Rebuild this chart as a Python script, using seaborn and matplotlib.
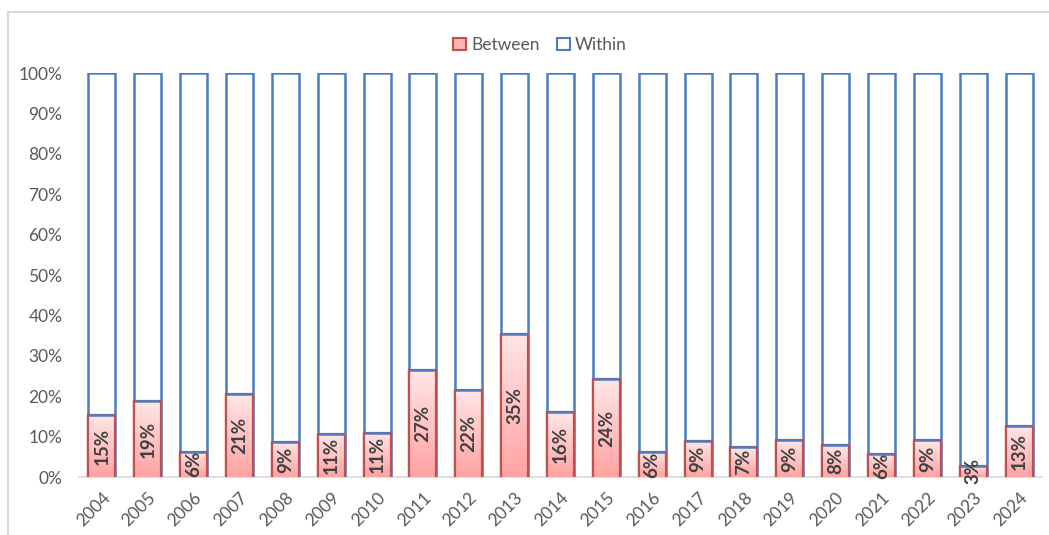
import numpy as np
import pandas as pd
import matplotlib
matplotlib.use("Agg")
import matplotlib.pyplot as plt
from matplotlib.patches import Patch
from matplotlib.lines import Line2D
from matplotlib.colors import LinearSegmentedColormap
import seaborn as sns

years = ['2004', '2005', '2006', '2007', '2008', '2009', '2010', '2011', '2012', '2013', '2014',
         '2015', '2016', '2017', '2018', '2019', '2020', '2021', '2022', '2023', '2024']
between = [15.3, 18.7, 6.3, 20.6, 8.7, 10.7, 11.0, 26.6, 21.6, 35.3, 16.0,
           24.2, 6.2, 9.0, 7.4, 9.2, 7.9, 5.7, 9.1, 2.8, 12.6]
within = [84.7, 81.3, 93.7, 79.4, 91.3, 89.3, 89.0, 73.4, 78.4, 64.7, 84.0,
          75.8, 93.8, 91.0, 92.6, 90.8, 92.1, 94.3, 90.9, 97.2, 87.4]

df = pd.DataFrame({'Year': years, 'Between': between, 'Within': within})
df['Total'] = df['Between'] + df['Within']
df['share_between'] = df['Between'] / df['Total']
df['share_total'] = 1.0

sns.set_style('white')
plt.rcParams['font.family'] = ['Lato', 'DejaVu Sans']

red_edge = '#C0504D'
blue_edge = '#4A7EC4'
text_grey = '#595959'

fig = plt.figure(figsize=(10.49, 5.35), dpi=100)
ax = fig.add_axes([79 / 1049, 1 - 477 / 535, (1042 - 79) / 1049, (477 - 73) / 535])

# full-height bars (Within)
sns.barplot(data=df, x='Year', y='share_total', color='white', edgecolor=blue_edge,
            linewidth=1.8, width=0.59, saturation=1, ax=ax, zorder=1)
n = len(years)

# Between bars on top
sns.barplot(data=df, x='Year', y='share_between', color='#FFB3B3', edgecolor=red_edge,
            linewidth=1.6, width=0.59, saturation=1, ax=ax, zorder=2)
between_patches = list(ax.patches)[n:]

cmap = LinearSegmentedColormap.from_list('pinkgrad', ['#FFA3A3', '#FFE6E6'])
grad = np.linspace(0, 1, 100).reshape(-1, 1)
for p, v in zip(between_patches, df['share_between']):
    x0, w = p.get_x(), p.get_width()
    im = ax.imshow(grad, extent=[x0, x0 + w, 0, v], origin='lower', aspect='auto',
                   cmap=cmap, zorder=2.5)
    im.set_clip_path(p)
    # separator line between the two segments
    ax.plot([x0, x0 + w], [v, v], color=blue_edge, lw=1.8, zorder=3, solid_capstyle='butt')
    # redraw red outline above gradient
    ax.plot([x0, x0], [0, v], color=red_edge, lw=1.6, zorder=3)
    ax.plot([x0 + w, x0 + w], [0, v], color=red_edge, lw=1.6, zorder=3)
    ax.text(x0 + w / 2, v / 2, f"{round(v * 100)}%", rotation=90, ha='center', va='center',
            fontsize=13.5, fontweight='bold', color='#404040', zorder=4, clip_on=False)

ax.set_xlim(-0.5, n - 0.5)
ax.set_ylim(0, 1)
ax.set_yticks(np.arange(0, 1.01, 0.1))
ax.set_yticklabels([f"{int(t)}%" for t in np.arange(0, 101, 10)])
ax.set_xlabel('')
ax.set_ylabel('')
ax.tick_params(axis='both', length=0, colors=text_grey, labelsize=12.5)
ax.tick_params(axis='y', pad=12)
ax.tick_params(axis='x', pad=9)
plt.setp(ax.get_xticklabels(), rotation=45, ha='right', rotation_mode='anchor')
for s in ['top', 'right', 'left']:
    ax.spines[s].set_visible(False)
ax.spines['bottom'].set_color('#D9D9D9')
ax.spines['bottom'].set_linewidth(1.2)
ax.spines['bottom'].set_zorder(0.5)

handles = [Patch(facecolor='#FFB3B3', edgecolor=red_edge, linewidth=1.5, label='Between'),
           Patch(facecolor='white', edgecolor=blue_edge, linewidth=1.5, label='Within')]
fig.legend(handles=handles, loc='center', bbox_to_anchor=(540 / 1049, 1 - 45 / 535), ncol=2,
           frameon=False, fontsize=12.5, labelcolor=text_grey, handlelength=0.75,
           handleheight=0.75, handletextpad=0.3, columnspacing=1.0)

# chart area border
fig.add_artist(Line2D([7.5 / 1049, 7.5 / 1049], [0, 1 - 12 / 535], color='#D9D9D9', lw=1.5,
                      transform=fig.transFigure))
fig.add_artist(Line2D([7.5 / 1049, 1], [1 - 12 / 535, 1 - 12 / 535], color='#D9D9D9', lw=1.5,
                      transform=fig.transFigure))

fig.savefig('out.png', dpi=100)
